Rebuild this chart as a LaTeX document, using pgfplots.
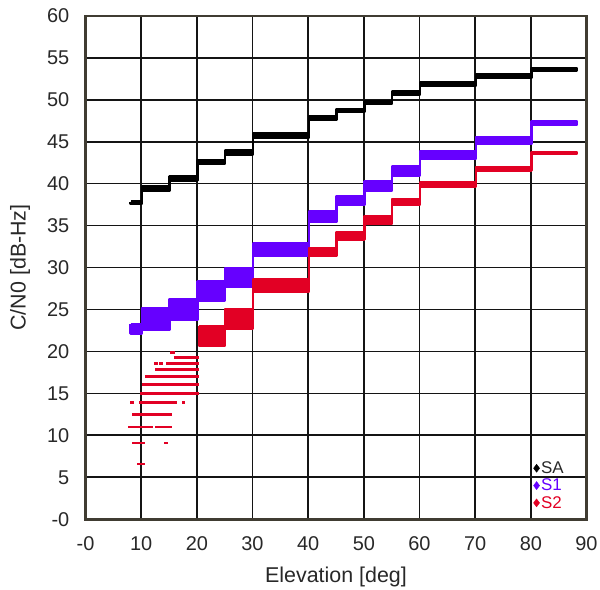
\documentclass[border=0pt]{standalone}
\usepackage{fontspec}
\setmainfont{Liberation Sans}
\usepackage{pgfplots}
\pgfplotsset{compat=1.18}
\definecolor{framec}{RGB}{64,60,50}
\definecolor{tickc}{RGB}{40,40,40}
\definecolor{s1c}{RGB}{102,0,255}
\definecolor{s2c}{RGB}{226,0,36}
\begin{document}
\begin{tikzpicture}
\begin{axis}[
  scale only axis, width=501bp, height=503.6bp,
  xmin=0, xmax=90, ymin=0, ymax=60,
  xtick={0,10,...,90}, ytick={0,5,...,60},
  xticklabels={-0,10,20,30,40,50,60,70,80,90},
  yticklabels={-0,5,10,15,20,25,30,35,40,45,50,55,60},
  major tick length=0pt,
  grid=major, major grid style={line width=1.8bp, black!92},
  axis line style={line width=2.4bp, color=framec},
  tick label style={font=\fontsize{20}{20}\selectfont, color=tickc},
  xticklabel style={anchor=north, inner sep=0pt, yshift=-17.5bp},
  yticklabel style={anchor=east, inner sep=0pt, xshift=-16bp},
  xlabel={Elevation [deg]}, ylabel={C/N0 [dB-Hz]},
  label style={font=\fontsize{21.5}{21.5}\selectfont, color=tickc},
  xlabel style={at={(axis description cs:0.5,-0.1146)}, anchor=center},
  ylabel style={at={(axis description cs:-0.1307,0.5)}, anchor=center},
  legend style={at={(axis description cs:0.894,0.118)}, anchor=north west,
    draw=none, fill=none, inner sep=0pt, row sep=1bp,
    nodes={inner sep=1.5bp}, font=\fontsize{17}{17}\selectfont},
  legend cell align=left,
]
\coordinate (sw) at (rel axis cs:0,0);
% SA (black) band
\addplot[fill=black, draw=black, line width=2.4bp, line join=round, forget plot] coordinates {
(8.1,37.85)(10.2,37.85)(10.2,39.65)(15.1,39.65)(15.1,40.85)(20.1,40.85)(20.1,42.75)(25.1,42.75)(25.1,43.95)(30.1,43.95)(30.1,45.95)(40.1,45.95)(40.1,48.05)(45.1,48.05)(45.1,48.85)(50.1,48.85)(50.1,49.85)(55.1,49.85)(55.1,50.95)(60.1,50.95)(60.1,52.05)(70.1,52.05)(70.1,53.05)(80.1,53.05)(80.1,53.75)(88.3,53.75)
(88.3,53.45)(80.1,53.45)(80.1,52.55)(70.1,52.55)(70.1,51.65)(60.1,51.65)(60.1,50.55)(55.1,50.55)(55.1,49.45)(50.1,49.45)(50.1,48.55)(45.1,48.55)(45.1,47.55)(40.1,47.55)(40.1,45.45)(30.1,45.45)(30.1,43.45)(25.1,43.45)(25.1,42.35)(20.1,42.35)(20.1,40.35)(15.1,40.35)(15.1,39.15)(10.2,39.15)(10.2,37.55)(8.1,37.55)(8.1,37.85)};
% S1 (blue) band
\addplot[fill=s1c, draw=s1c, line width=2.4bp, line join=round, forget plot] coordinates {
(8.1,23.25)(10.1,23.25)(10.1,25.15)(15.1,25.15)(15.1,26.25)(20.1,26.25)(20.1,28.35)(25.1,28.35)(25.1,29.95)(30.1,29.95)(30.1,32.85)(40.1,32.85)(40.1,36.65)(45.1,36.65)(45.1,38.55)(50.1,38.55)(50.1,40.25)(55.1,40.25)(55.1,42.05)(60.1,42.05)(60.1,43.85)(70.1,43.85)(70.1,45.55)(80.1,45.55)(80.1,47.45)(88.3,47.45)
(88.3,46.95)(80.1,46.95)(80.1,44.75)(70.1,44.75)(70.1,42.95)(60.1,42.95)(60.1,40.95)(55.1,40.95)(55.1,39.15)(50.1,39.15)(50.1,37.45)(45.1,37.45)(45.1,35.45)(40.1,35.45)(40.1,31.45)(30.1,31.45)(30.1,27.65)(25.1,27.65)(25.1,26.05)(20.1,26.05)(20.1,23.75)(15.1,23.75)(15.1,22.55)(10.1,22.55)(10.1,22.15)(8.1,22.15)(8.1,23.25)};
% S2 (red) band
\addplot[fill=s2c, draw=s2c, line width=2.4bp, line join=round, forget plot] coordinates {
(20.4,23.05)(25.1,23.05)(25.1,25.05)(30.1,25.05)(30.1,28.55)(40.1,28.55)(40.1,32.35)(45.1,32.35)(45.1,34.25)(50.1,34.25)(50.1,36.15)(55.1,36.15)(55.1,38.15)(60.1,38.15)(60.1,40.15)(70.1,40.15)(70.1,41.95)(80.1,41.95)(80.1,43.75)(88.3,43.75)
(88.3,43.55)(80.1,43.55)(80.1,41.55)(70.1,41.55)(70.1,39.65)(60.1,39.65)(60.1,37.45)(55.1,37.45)(55.1,35.15)(50.1,35.15)(50.1,33.35)(45.1,33.35)(45.1,31.35)(40.1,31.35)(40.1,27.05)(30.1,27.05)(30.1,22.75)(25.1,22.75)(25.1,20.65)(20.4,20.65)(20.4,23.05)};
% S2 low-elevation quantised rows
\addplot[s2c, line width=2.8bp, line cap=rect, forget plot, unbounded coords=jump] table[row sep=\\] {
x y\\
15.4 19.9\\ 15.8 19.9\\ nan nan\\
16.1 19.3\\ 20.2 19.3\\ nan nan\\
12.5 18.6\\ 12.7 18.6\\ nan nan\\
13.5 18.6\\ 13.7 18.6\\ nan nan\\
14.8 18.6\\ 20.2 18.6\\ nan nan\\
12.8 17.8\\ 20.2 17.8\\ nan nan\\
10.9 17.0\\ 20.2 17.0\\ nan nan\\
10.4 16.1\\ 20.2 16.1\\ nan nan\\
10.1 15.0\\ 20.2 15.0\\ nan nan\\
8.3 13.9\\ 8.5 13.9\\ nan nan\\
9.8 13.9\\ 15.5 13.9\\ nan nan\\
16.0 13.9\\ 16.2 13.9\\ nan nan\\
17.5 13.9\\ 17.7 13.9\\ nan nan\\
8.6 12.5\\ 15.2 12.5\\ nan nan\\
7.9 11.0\\ 11.9 11.0\\ nan nan\\
12.8 11.0\\ 15.2 11.0\\ nan nan\\
8.6 9.1\\ 10.4 9.1\\ nan nan\\
14.4 9.1\\ 14.6 9.1\\ nan nan\\
9.5 6.6\\ 10.4 6.6\\
};
\addlegendimage{legend image code/.code={\draw[black, mark=diamond*, mark size=4bp, mark options={fill=black}] plot coordinates {(0bp,0bp)};}}
\addlegendentry{\textcolor{tickc}{SA}}
\addlegendimage{legend image code/.code={\draw[s1c, mark=diamond*, mark size=4bp, mark options={fill=s1c}] plot coordinates {(0bp,0bp)};}}
\addlegendentry{\textcolor{s1c}{S1}}
\addlegendimage{legend image code/.code={\draw[s2c, mark=diamond*, mark size=4bp, mark options={fill=s2c}] plot coordinates {(0bp,0bp)};}}
\addlegendentry{\textcolor{s2c}{S2}}
\end{axis}
\pgfresetboundingbox
\useasboundingbox ([shift={(-85.5bp,-70.7bp)}]sw) rectangle ++(600bp,590bp);
\end{tikzpicture}
\end{document}
